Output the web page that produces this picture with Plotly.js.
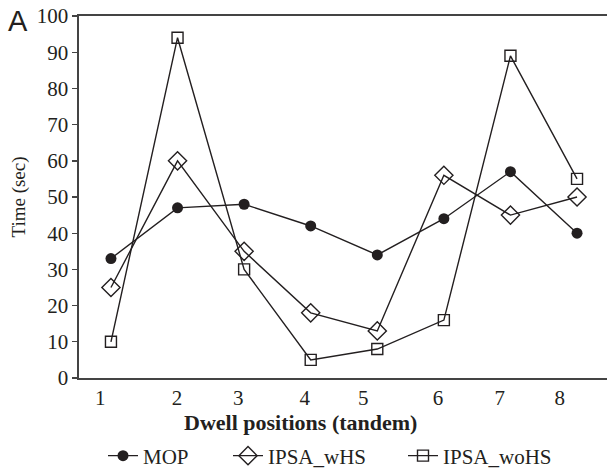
<!DOCTYPE html>
<html>
<head>
<meta charset="utf-8">
<script src="https://cdn.plot.ly/plotly-3.0.1.min.js"></script>
<style>html,body{margin:0;padding:0;background:#fff;}#chart{width:607px;height:470px;}</style>
</head>
<body>
<div id="chart"></div>
<script>
// Dwell positions (tandem)
const positions = [1, 2, 3, 4, 5, 6, 7, 8];
const tickLabels = ["1", "2", "3", "4", "5", "6", "7", "8"];
const mop = [33, 47, 48, 42, 34, 44, 57, 40];
const ipsaWHS = [25, 60, 35, 18, 13, 56, 45, 50];
const ipsaWoHS = [10, 94, 30, 5, 8, 16, 89, 55];
const seriesNames = ["MOP", "IPSA_wHS", "IPSA_woHS"];
const xTitle = "Dwell positions (tandem)";
const yTitle = "Time (sec)";

const ink = '#231f20';
const serif = '"Liberation Serif", "DejaVu Serif", serif';

const traces = [
  {x: positions, y: mop, name: seriesNames[0], mode: 'lines+markers', legend: 'legend',
   line: {color: ink, width: 1.4},
   marker: {symbol: 'circle', size: 11, color: ink}},
  {x: positions, y: ipsaWHS, name: seriesNames[1], mode: 'lines+markers', legend: 'legend2',
   line: {color: ink, width: 1.4},
   marker: {symbol: 'diamond-open', size: 14, color: ink, line: {width: 1.4, color: ink}}},
  {x: positions, y: ipsaWoHS, name: seriesNames[2], mode: 'lines+markers', legend: 'legend3',
   line: {color: ink, width: 1.4},
   marker: {symbol: 'square-open', size: 11, color: ink, line: {width: 1.4, color: ink}}}
];

function leg(xpx) {
  return {
    orientation: 'h', xref: 'container', yref: 'container',
    x: xpx / 607, xanchor: 'left', y: 14 / 470, yanchor: 'middle',
    font: {family: serif, size: 21, color: ink},
    itemwidth: 30, bgcolor: 'rgba(0,0,0,0)'
  };
}

const layout = {
  width: 607, height: 470,
  margin: {l: 79, r: 0, t: 16, b: 92},
  paper_bgcolor: '#fff', plot_bgcolor: '#fff',
  font: {family: serif, color: ink},
  showlegend: true,
  xaxis: {
    range: [0.52, 8.45],
    tickmode: 'array',
    tickvals: [0.84, 1.99, 2.91, 3.91, 4.79, 5.91, 6.84, 7.74],
    ticktext: tickLabels,
    showgrid: false, zeroline: false,
    showline: true, mirror: true, linecolor: '#444', linewidth: 1.6,
    ticks: '',
    tickfont: {family: serif, size: 21, color: ink},
    automargin: false
  },
  yaxis: {
    range: [0, 100],
    dtick: 10,
    showgrid: false, zeroline: false,
    showline: true, linecolor: '#444', linewidth: 1.6,
    ticks: 'outside', ticklen: 5, tickwidth: 1.4, tickcolor: '#444',
    tickfont: {family: serif, size: 21, color: ink},
    title: {text: yTitle, font: {family: serif, size: 19, color: ink}, standoff: 6},
    automargin: false
  },
  legend: leg(103),
  legend2: leg(228),
  legend3: leg(403),
  annotations: [
    {text: 'A', xref: 'paper', yref: 'paper', x: -0.1155, y: 0.986,
     xanchor: 'center', yanchor: 'middle', showarrow: false,
     font: {family: '"Liberation Sans", Arial, sans-serif', size: 29, color: ink}},
    {text: '<b>' + xTitle + '</b>', xref: 'paper', yref: 'paper',
     x: 0.4186, y: -0.1243, xanchor: 'center', yanchor: 'middle', showarrow: false,
     font: {family: serif, size: 22, color: ink}}
  ]
};

Plotly.newPlot('chart', traces, layout, {displayModeBar: false, staticPlot: true});
</script>
</body>
</html>
